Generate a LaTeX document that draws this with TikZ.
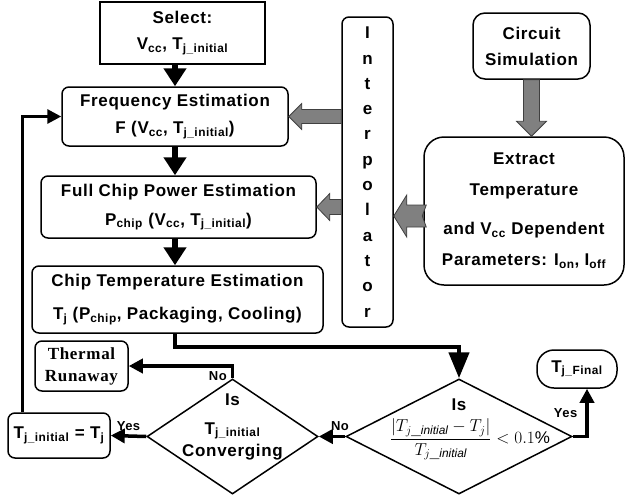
\documentclass[tikz,border=0pt]{standalone}
\usepackage{fontspec}
\setmainfont{Liberation Sans}[LetterSpace=4]
\newfontfamily\timesfont{Liberation Serif}[LetterSpace=4]
\usetikzlibrary{arrows.meta,shapes.geometric,calc}

\newcommand{\sub}[1]{\textsubscript{#1}}

% gray block arrow pointing left: tip, tail, half shaft, half head, notch
\newcommand{\fatleft}[5]{%
  \filldraw[fatarrow] let \p1=(#1), \p2=(#2) in
    (\x2,\y1+#3) -- (\x1+13pt,\y1+#3) -- (\x1+13pt,\y1+#4) -- (\x1,\y1)
    -- (\x1+13pt,\y1-#4) -- (\x1+13pt,\y1-#3) -- (\x2,\y1-#3)
    -- (\x2-#5,\y1) -- cycle;}
% gray block arrow pointing down: tip, tail, half shaft, half head
\newcommand{\fatdown}[4]{%
  \filldraw[fatarrow] let \p1=(#1), \p2=(#2) in
    (\x1-#3,\y2) -- (\x1-#3,\y1+15pt) -- (\x1-#4,\y1+15pt) -- (\x1,\y1)
    -- (\x1+#4,\y1+15pt) -- (\x1+#3,\y1+15pt) -- (\x1+#3,\y2) -- cycle;}

\begin{document}
\begin{tikzpicture}[x=1pt,y=-1pt,
    plainbox/.style={draw,line width=1.5pt,align=center,inner sep=0pt},
    roundbox/.style={plainbox,rounded corners=7pt},
    decision/.style={draw,line width=1.5pt,diamond,inner sep=0pt},
    flow/.style={line width=3.5pt,-{Triangle[length=14pt,width=14pt]}},
    bigflow/.style={line width=6pt,-{Triangle[length=18pt,width=22pt]}},
    fatarrow/.style={fill=gray,draw=black!75,line width=0.8pt},
    flowlabel/.style={font=\bfseries\fontsize{13}{13}\selectfont,inner sep=2pt},
    font=\bfseries\fontsize{17}{25}\selectfont]
    \useasboundingbox (0,0) rectangle (626,498);

    % Estimation chain
    \node[plainbox,minimum width=165,minimum height=62] (select) at (182.5,33)
        {Select:\\[1pt] V\sub{cc}, T\sub{j\_initial}};
    \node[roundbox,minimum width=226,minimum height=59] (freq) at (175,116.5)
        {Frequency Estimation\\[2pt] F (V\sub{cc}, T\sub{j\_initial})};
    \node[roundbox,minimum width=275,minimum height=62] (power) at (178.5,207)
        {Full Chip Power Estimation\\[4pt] P\sub{chip} (V\sub{cc}, T\sub{j\_initial})};
    \node[roundbox,minimum width=291,minimum height=67] (chiptemp) at (177.5,299.5)
        {Chip Temperature Estimation\\[8pt] T\sub{j} (P\sub{chip}, Packaging, Cooling)};

    % Interpolator and simulation data
    \node[roundbox,minimum width=51,minimum height=310,
          font=\bfseries\fontsize{17}{25.3}\selectfont] (interp) at (367.5,172)
        {I\\n\\t\\e\\r\\p\\o\\l\\a\\t\\o\\r};
    \node[roundbox,rounded corners=12pt,minimum width=117,minimum height=66] (circuit) at (531.5,46)
        {Circuit\\[1pt] Simulation};
    \node[roundbox,rounded corners=20pt,minimum width=200,minimum height=148] (extract) at (524,211)
        {Extract\\[6pt] Temperature\\[14pt] and V\sub{cc} Dependent\\[6pt] Parameters: I\sub{on}, I\sub{off}};

    % Convergence loop
    \node[roundbox,minimum width=93,minimum height=50,
          font=\timesfont\bfseries\fontsize{17}{22}\selectfont] (runaway) at (81.5,366)
        {Thermal\\Runaway};
    \node[decision,minimum width=171,minimum height=115,
          label={[align=center,yshift=10pt]center:{Is\\[4pt] T\sub{j\_initial}\\[-3pt] Converging}}]
        (conv) at (232.5,436.5) {};
    \node[decision,minimum width=226,minimum height=115,
          label={[align=center,xshift=11pt,yshift=7pt]center:{\hspace*{-22pt}Is\\[8pt]
            $\displaystyle\frac{\left|T_{j\_\mathit{initial}}-T_j\right|}{T_{j\_\mathit{initial}}}<0.1\%$}}]
        (tol) at (459,436.5) {};
    \node[roundbox,rounded corners=17pt,minimum width=80,minimum height=38] (final) at (577,369)
        {T\sub{j\_Final}};
    \node[roundbox,minimum width=102,minimum height=45] (initeq) at (59,435.5)
        {T\sub{j\_initial} = T\sub{j}};

    % Black flow arrows
    \draw[bigflow] (freq.north |- select.south) -- (freq.north);
    \draw[bigflow] (freq.south) -- (freq.south |- power.north);
    \draw[bigflow] (power.south -| freq.south) -- (chiptemp.north -| freq.south);
    \draw[flow,line width=4.5pt,-{Triangle[length=26pt,width=20pt]}]
        (chiptemp.south -| freq.south) -- ++(0,13) -| (tol.north);
    \draw[flow] (tol.west) -- (conv.east) node[flowlabel,pos=0.2,above=2pt] {No};
    \draw[flow] (tol.east) -| ([xshift=10pt]final.south) node[flowlabel,pos=0.75,left=6pt] {Yes};
    \draw[flow] (conv.west) -- (initeq.east) node[flowlabel,midway,above=2pt] {Yes};
    \draw[flow] (conv.north) |- (runaway.east) node[flowlabel,pos=0.5,below left=2pt] {No};
    \draw[flow,line width=3pt] ([xshift=-37pt]initeq.north) |- (freq.west);

    % Gray data arrows
    \fatleft{freq.east}{interp.west |- freq.east}{7pt}{13pt}{0pt}
    \fatleft{power.east}{interp.west |- power.east}{7.5pt}{13.5pt}{0pt}
    \fatleft{$(interp.east |- extract.west)+(0,5)$}{$(extract.west)+(3,5)$}{11pt}{21pt}{4pt}
    \fatdown{circuit.south |- extract.north}{circuit.south}{8pt}{15pt}
\end{tikzpicture}
\end{document}
